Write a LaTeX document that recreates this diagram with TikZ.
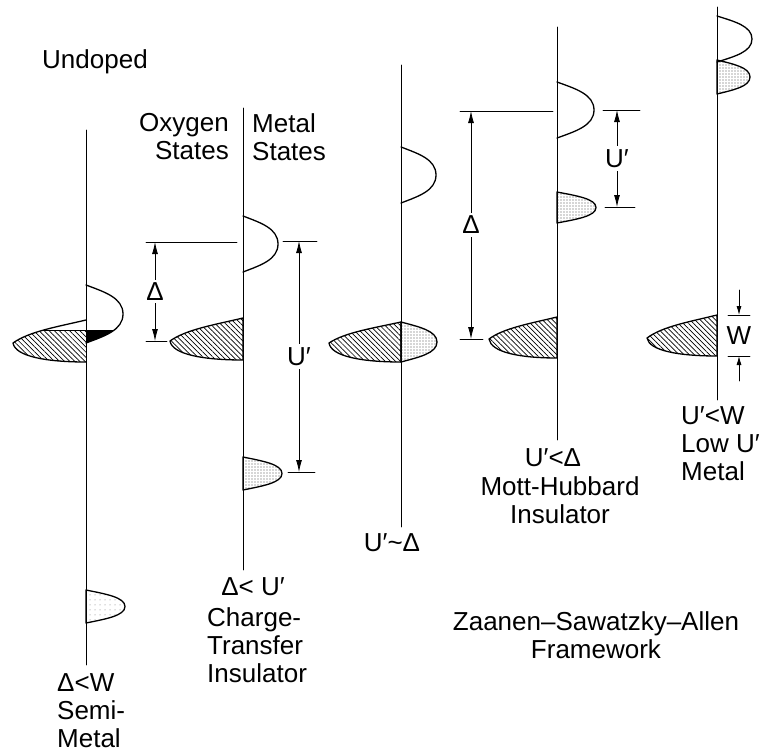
\documentclass[tikz,border=0pt]{standalone}
\usepackage{fontspec}
\setmainfont{Liberation Sans}
\usetikzlibrary{arrows.meta,patterns.meta}

% band shapes: right lobe {axis x}{top y}{bottom y}{peak x}
\newcommand\rlobe[4]{(#1,#2) .. controls ({#1+0.5*(#4-#1)},{#2+0.12*(#3-#2)}) and (#4,{#2+0.22*(#3-#2)}) .. (#4,{(#2+#3)/2}) .. controls (#4,{#3-0.22*(#3-#2)}) and ({#1+0.5*(#4-#1)},{#3-0.12*(#3-#2)}) .. (#1,#3)}
% left lobe {axis x}{top y}{bottom y}{tip x}{tip y}
\newcommand\llobe[5]{(#1,#2) .. controls ({#1-0.4*(#1-#4)},{#2+0.3*(#5-#2)}) and ({#4+0.22*(#1-#4)},{#5-0.5*(#5-#2)}) .. (#4,#5) .. controls ({#4+0.03*(#1-#4)},{#5+0.7*(#3-#5)}) and ({#1-0.55*(#1-#4)},#3) .. (#1,#3)}

\tikzset{
  axis/.style={line width=0.8pt},
  lobe/.style={line width=1.3pt},
  hatchfill/.style={pattern={Lines[angle=-45,distance=3.6pt,line width=0.7pt]}},
  hatch/.style={lobe, hatchfill},
  stipple/.style={lobe, pattern={Dots[distance=3pt,radius=0.55pt]}, pattern color=black!70},
  refline/.style={line width=0.9pt},
  dim/.style={line width=0.8pt, {Latex[length=12pt,width=6pt]}-{Latex[length=12pt,width=6pt]}},
  dimone/.style={line width=0.8pt, -{Latex[length=9pt,width=5pt]}},
  dimlbl/.style={fill=white, inner sep=3pt},
  lbl/.style={inner sep=0pt},
}

\begin{document}
\begin{tikzpicture}[x=1pt, y=-1pt, line join=round, line cap=round, font=\fontsize{26}{28}\selectfont]
\useasboundingbox (0,0) rectangle (771,755);

% axes
\draw[axis] (86,130) -- (86,665);
\draw[axis] (243,108) -- (243,570);
\draw[axis] (401,65) -- (401,527);
\draw[axis] (557,27) -- (557,440);
\draw[axis] (717,7) -- (717,400);

% headings
\node[lbl, anchor=west] (undoped) at (42,62) {Undoped};
\node[lbl, anchor=east, align=right] (oxygen) at (229,137) {Oxygen\\States};
\node[lbl, anchor=west, align=left] (metal) at (252,137) {Metal\\States};

% semi-metal
\begin{scope}
  \clip \llobe{86}{320}{362}{13}{343} -- cycle;
  \fill[hatchfill] (0,330) rectangle (86,400);
  \draw[refline] (0,330) -- (86,330);
\end{scope}
\draw[lobe] \llobe{86}{320}{362}{13}{343};
\begin{scope}
  \clip \rlobe{86}{285}{343}{123} -- cycle;
  \fill (86,330) rectangle (200,400);
\end{scope}
\draw[lobe] \rlobe{86}{285}{343}{123};
\draw[lobe, pattern={Dots[distance=5pt,radius=0.5pt]}, pattern color=black!55] \rlobe{86}{590}{623}{125} -- cycle;
\node[lbl, anchor=west, align=left] (semi) at (57,711) {Δ<W\\Semi-\\Metal};

% charge-transfer insulator
\draw[lobe] \rlobe{243}{216}{272}{278};
\draw[hatch] \llobe{243}{318}{360}{170}{341} -- cycle;
\draw[stipple] \rlobe{243}{457}{490}{282} -- cycle;
\draw[refline] (146,242) -- (237,242) (146,341) -- (167,341);
\draw[refline] (283,241) -- (317,241) (288,472) -- (315,472);
\coordinate (ctDt) at (155,242); \coordinate (ctDb) at (155,341);
\coordinate (ctUt) at (299,241); \coordinate (ctUb) at (299,472);
\draw[dim] (ctDt) -- (ctDb) node[midway, dimlbl] {Δ};
\draw[dim] (ctUt) -- (ctUb) node[midway, dimlbl] {U′};
\node[lbl] (ctcond) at (253,587) {Δ< U′};
\node[lbl, anchor=west, align=left] (ct) at (207,645) {Charge-\\Transfer\\Insulator};

% U' ~ Delta
\draw[lobe] \rlobe{401}{147}{203}{436};
\draw[hatch] \llobe{401}{322}{362}{329}{343} -- cycle;
\draw[stipple] \rlobe{401}{322}{362}{437} -- cycle;
\draw[refline] (460,111) -- (553,111) (460,339) -- (483,339);
\coordinate (mhDt) at (471,111); \coordinate (mhDb) at (471,339);
\draw[dim] (mhDt) -- (mhDb) node[midway, dimlbl] {Δ};
\node[lbl] (eqcond) at (392,543) {U′\textasciitilde Δ};

% Mott-Hubbard insulator
\draw[lobe] \rlobe{557}{82}{138}{594};
\draw[stipple] \rlobe{557}{192}{223}{596} -- cycle;
\draw[hatch] \llobe{557}{317}{358}{489}{339} -- cycle;
\draw[refline] (603,110) -- (640,110) (605,207) -- (635,207);
\coordinate (mhUt) at (617,110); \coordinate (mhUb) at (617,207);
\draw[dim] (mhUt) -- (mhUb) node[midway, dimlbl] {U′};
\node[lbl] (mhcond) at (553,458) {U′<Δ};
\node[lbl, align=center] (mh) at (560,500) {Mott-Hubbard\\Insulator};

% low U' metal
\draw[stipple] \rlobe{717}{60}{94}{750} -- cycle;
\draw[lobe] \rlobe{717}{16}{62}{752};
\draw[hatch] \llobe{717}{315}{356}{647}{338} -- cycle;
\draw[refline] (728,315) -- (750,315) (728,356) -- (750,356);
\coordinate (wa) at (739,290); \coordinate (wt) at (739,315);
\coordinate (wb) at (739,356); \coordinate (wc) at (739,381);
\draw[dimone] (wa) -- (wt);
\draw[dimone] (wc) -- (wb);
\node[lbl] (wlbl) at (739,336) {W};
\node[lbl, anchor=west, align=left] (low) at (681,444) {U′<W\\Low U′\\Metal};

\node[lbl, align=center] (zsa) at (596,635) {Zaanen--Sawatzky--Allen\\Framework};
\end{tikzpicture}
\end{document}
